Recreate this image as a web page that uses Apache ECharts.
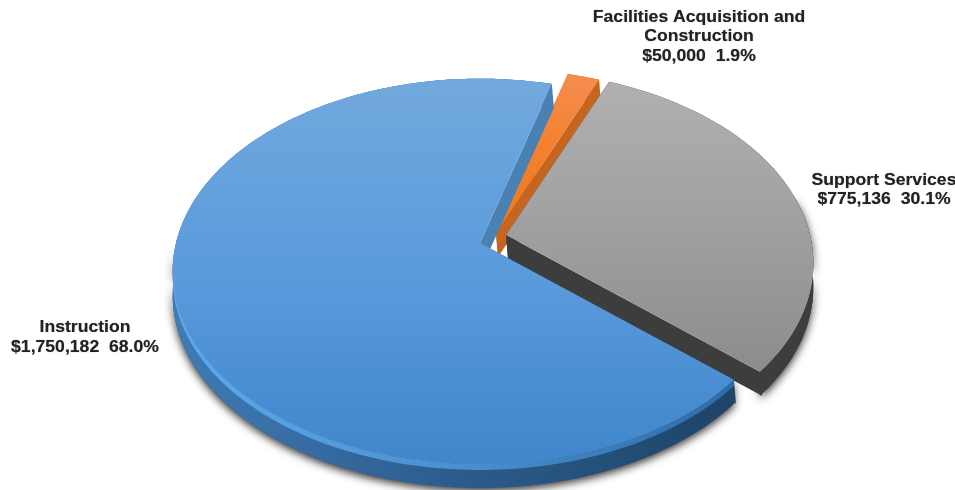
<!DOCTYPE html>
<html>
<head>
<meta charset="utf-8">
<style>html,body{margin:0;padding:0;background:#fff}#c{width:955px;height:490px}</style>
<script src="https://cdn.jsdelivr.net/npm/echarts@6/dist/echarts.min.js"></script>
</head>
<body>
<div id="c"></div>
<script>
// ---- data ----
var categories = ['Instruction', 'Facilities Acquisition and\nConstruction', 'Support Services'];
var amounts = [1750182, 50000, 775136];

// ---- pie view ----
var firstSliceAngle = 131;             // clockwise from 12 o'clock
var radius = 304, flatten = 0.62, perspective = 0.147, depth = 24, rimDepth = 6;
var anchors = [[480, 243], [496, 233], [506, 235]];   // exploded apex per slice
var labelAnchors = [[85, 337.5], [699, 37], [884, 190]];
var drawOrder = [3, 1, 2];
var total = amounts.reduce(function (a, b) { return a + b; }, 0);

var looks = [
  { top: ['#72a9dd', '#5a9bdc', '#3f86cb'], cut: '#4a81b3', cutEnd: '#1e4466',
    wall: ['#3f7bb5', '#2c5c8e', '#1e4466'], rim: ['#5cabef', '#4b90d0', '#2d6ca8'] },
  { top: ['#f58d50', '#f47f2c', '#ee7a22'], cut: '#c6651f', cutEnd: '#c6651f', wall: ['#c6651f', '#c6651f', '#b85a18'] },
  { top: ['#b0b0b0', '#a0a0a0', '#8c8c8c'], cut: '#3d3d3d', cutEnd: '#3d3d3d', wall: ['#3d3d3d', '#3d3d3d', '#3d3d3d'] }
];

function grad(cs, horizontal) {
  return { type: 'linear', x: 0, y: 0, x2: horizontal ? 1 : 0, y2: horizontal ? 0 : 1,
    colorStops: [{ offset: 0, color: cs[0] }, { offset: 0.5, color: cs[1] }, { offset: 1, color: cs[2] }] };
}
function project(anchor, deg, r) {
  var a = deg * Math.PI / 180, u = Math.sin(a) * r, v = -Math.cos(a) * r, k = 1 / (1 - perspective * v);
  return [anchor[0] + radius * u * k, anchor[1] + radius * flatten * v * k];
}
function arc(anchor, from, to) {
  var pts = [], n = Math.max(2, Math.ceil(to - from));
  for (var i = 0; i <= n; i++) pts.push(project(anchor, from + (to - from) * i / n, 1));
  return pts;
}
function shift(pts, dy) { return pts.map(function (p) { return [p[0], p[1] + dy]; }); }
function poly(points, fill, z2, extra) {
  var style = Object.assign({ fill: fill }, extra || {});
  return { type: 'polygon', z2: z2, shape: { points: points }, style: style, silent: true };
}
function label(i) {
  var pct = (amounts[i] / total * 100).toFixed(1);
  return categories[i] + '\n$' + amounts[i].toLocaleString('en-US') + '  ' + pct + '%';
}

function renderItem(params, api) {
  var i = params.dataIndex, look = looks[i], base = drawOrder[i] * 10, c = anchors[i];
  var before = 0;
  for (var j = 0; j < i; j++) before += amounts[j];
  var from = (firstSliceAngle + before / total * 360) % 360, to = from + amounts[i] / total * 360;
  var outer = arc(c, from, to), apex = project(c, 0, 0), kids = [];
  var low = shift(outer, depth);
  // soft drop shadow, only under the part of the rim that faces the viewer
  var sFrom = Math.max(from, 78), sTo = Math.min(to, 268);
  if (sTo > sFrom) {
    var sArc = arc(c, sFrom, sTo);
    kids.push(poly(sArc.concat(shift(sArc, depth).reverse()), '#555', base - 1, {
      shadowBlur: 9, shadowColor: 'rgba(0,0,0,0.8)', shadowOffsetX: 0, shadowOffsetY: 3 }));
  }
  kids.push(poly(outer.concat(low.slice().reverse()), grad(look.wall, true), base));
  // cut faces
  [[outer[0], look.cutEnd], [outer[outer.length - 1], look.cut]].forEach(function (e) {
    var p = e[0];
    kids.push(poly([apex, p, [p[0] + 2, p[1] + depth], [apex[0] + 2, apex[1] + depth]], e[1], base + 1));
  });
  if (look.rim) {
    kids.push(poly(outer.concat(shift(outer, rimDepth).reverse()), grad(look.rim, true), base + 2));
  }
  kids.push(poly([apex].concat(outer), grad(look.top, false), base + 3));
  kids.push({
    type: 'text', z2: 100, silent: true, x: labelAnchors[i][0], y: labelAnchors[i][1],
    scaleX: 1.13, style: {
      text: label(i), x: 0, y: 0, align: 'center', verticalAlign: 'middle', lineHeight: 19.5,
      font: 'bold 15.6px "Liberation Sans", Arial, sans-serif', fill: '#222',
      textShadowBlur: 1, textShadowColor: 'rgba(0,0,0,0.45)'
    }
  });
  return { type: 'group', children: kids };
}

var chart = echarts.init(document.getElementById('c'), null, { renderer: 'canvas' });
chart.setOption({
  animation: false,
  backgroundColor: '#fff',
  series: [{
    type: 'custom', coordinateSystem: 'none', renderItem: renderItem,
    data: categories.map(function (n, i) { return { name: n, value: amounts[i] }; })
  }]
});
</script>
</body>
</html>
